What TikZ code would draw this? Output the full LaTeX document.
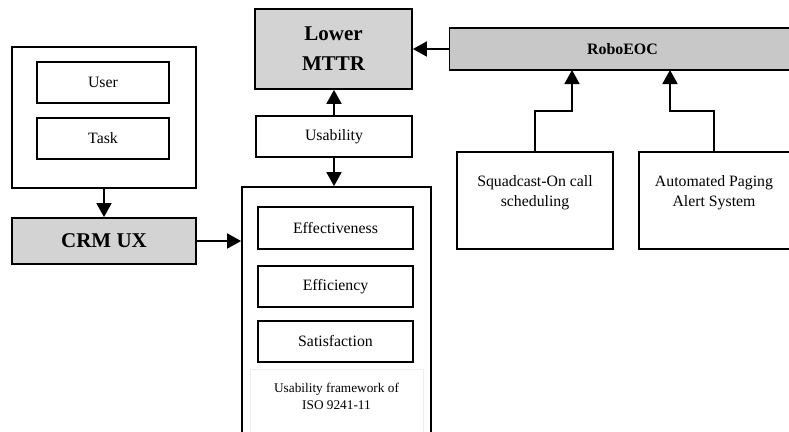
\documentclass[tikz,border=0pt]{standalone}
\usepackage{fontspec}
\setmainfont{Liberation Serif}
\usetikzlibrary{arrows.meta,calc}
\begin{document}
\begin{tikzpicture}[x=1pt,y=-1pt,
  box/.style={draw=black,line width=1.8pt,fill=white,inner sep=0pt,font=\fontsize{15.8}{20}\selectfont,align=center},
  graybox/.style={box,fill={rgb,255:red,211;green,211;blue,211}},
  robobox/.style={box,fill={rgb,255:red,200;green,200;blue,200}},
  arr/.style={line width=1.8pt,-{Triangle[length=14pt,width=15pt]}},
  big/.style={font=\fontsize{21}{30}\selectfont\bfseries}]
\useasboundingbox (0,0) rectangle (789,431);
\clip (0,0) rectangle (789,431);
% left group
\node[box,minimum width=184pt,minimum height=141pt] (outer) at (104,117.5) {};
\node[box,minimum width=132pt,minimum height=41pt] (user) at (103,82.5) {User};
\node[box,minimum width=132pt,minimum height=41pt] (task) at (103,138.5) {Task};
\node[graybox,big,minimum width=184pt,minimum height=46pt] (crm) at (104,241) {CRM UX};
% middle
\node[graybox,big,minimum width=157pt,minimum height=80pt] (mttr) at (333.5,49) {Lower\\MTTR};
\node[box,minimum width=156pt,minimum height=41pt] (usab) at (334,136.5) {Usability};
\node[box,minimum width=189pt,minimum height=250pt] (frame) at (336.5,312) {};
\node[box,minimum width=155pt,minimum height=42pt] (eff) at (335.5,228) {Effectiveness};
\node[box,minimum width=155pt,minimum height=41pt] (effi) at (335.5,286.5) {Efficiency};
\node[box,minimum width=155pt,minimum height=41pt] (sat) at (335.5,341.5) {Satisfaction};
\node[draw={rgb,255:red,238;green,238;blue,238},line width=1pt,minimum width=173pt,minimum height=64pt,inner sep=0pt] (fw) at (336.5,401) {};
\node[font=\fontsize{13.3}{17}\selectfont,align=center] (fwt) at (336.5,396.5) {Usability framework of\\ISO 9241-11};
% right
\node[robobox,font=\fontsize{15.9}{20}\selectfont\bfseries,minimum width=346pt,minimum height=42pt] (robo) at (622.5,49) {RoboEOC};
\node[box,minimum width=156pt,minimum height=97pt] (sq) at (535,200.5) {};
\node[font=\fontsize{15.8}{20}\selectfont,align=center] (sqt) at (535,193) {Squadcast-On call\\scheduling};
\node[box,minimum width=154pt,minimum height=97pt] (auto) at (716,200.5) {};
\node[font=\fontsize{15.8}{20}\selectfont,align=center] (autot) at (714,193) {Automated Paging\\Alert System};
\coordinate (ra) at (572,70);
\coordinate (rb) at (670,70);
% connectors
\draw[arr] (outer.south) -- (crm.north);
\draw[arr] (crm.east) -- (crm.east -| frame.west);
\draw[arr] (usab.north) -- (usab.north |- mttr.south);
\draw[arr] (usab.south) -- (usab.south |- frame.north);
\draw[arr] (robo.west |- mttr.east) -- (mttr.east);
\draw[arr] (sq.north) -- (sq.north |- 0,111) -| (ra);
\draw[arr] (auto.north -| 714,0) -- (714,111) -| (rb);
\end{tikzpicture}
\end{document}
